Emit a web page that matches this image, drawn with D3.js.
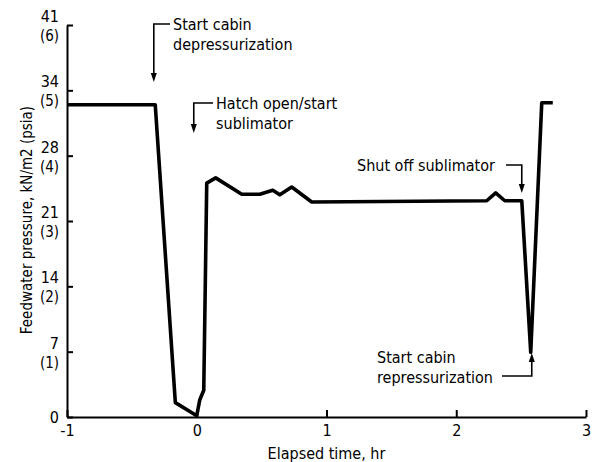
<!DOCTYPE html>
<html>
<head>
<meta charset="utf-8">
<script src="https://cdn.jsdelivr.net/npm/d3@7"></script>
<style>
  body { margin: 0; background: #fff; }
  text { font-family: "DejaVu Sans Condensed", "Liberation Sans Narrow", sans-serif; fill: #000; }
</style>
</head>
<body>
<div id="chart"></div>
<script>
// elapsed time, hr
let times = [-1, -0.32, -0.165, 0, 0.023, 0.054, 0.077, 0.146, 0.347, 0.486, 0.586, 0.64, 0.732, 0.886,
  2.235, 2.304, 2.374, 2.505, 2.574, 2.659, 2.744];
// feedwater pressure, psia
let pressures = [4.78, 4.78, 0.22, 0.02, 0.26, 0.41, 3.58, 3.66, 3.41, 3.41, 3.47, 3.40, 3.52, 3.29,
  3.31, 3.43, 3.31, 3.31, 0.99, 4.81, 4.81];

let xTicks = [-1, 0, 1, 2, 3];
let yTicks = [0, 1, 2, 3, 4, 5, 6];
let kNLabels = ["0", "7", "14", "21", "28", "34", "41"];
let psiaLabels = ["", "(1)", "(2)", "(3)", "(4)", "(5)", "(6)"];

let notes = [
  { t: -0.331, lines: ["Start cabin", "depressurization"] },
  { t: -0.023, lines: ["Hatch open/start", "sublimator"] },
  { t: 2.505, lines: ["Shut off sublimator"] },
  { t: 2.582, lines: ["Start cabin", "repressurization"] }
];

let data = times.map(function(t, i) {
  return { t: t, p: pressures[i] };
});

function renderChart() {
  let width = 601,
    height = 462;

  let svg = d3.select("#chart")
    .append("svg")
    .attr("width", width)
    .attr("height", height);

  let x = d3.scaleLinear().domain([-1, 3]).range([67, 586]);
  let y = d3.scaleLinear().domain([0, 6]).range([417, 25]);

  // x axis, ticks pointing up
  let xAxis = svg.append("g")
    .attr("transform", "translate(0," + y(0) + ")")
    .call(d3.axisBottom(x).tickValues(xTicks).tickSizeInner(-7).tickSizeOuter(0).tickPadding(5))
  xAxis.select(".domain").attr("stroke-width", 2);
  xAxis.selectAll(".tick line").attr("stroke-width", 2);
  xAxis.selectAll(".tick text")
    .style("font-size", "16px")
    .attr("font-family", null)
    .attr("dy", "0.9em")
    .text(function(d) { return d < 0 ? "-1" : d; });

  // y axis, ticks pointing right
  let yAxis = svg.append("g")
    .attr("transform", "translate(" + x(-1) + ",0)")
    .call(d3.axisLeft(y).tickValues(yTicks).tickSizeInner(-6).tickSizeOuter(0).tickFormat(""))
  yAxis.select(".domain").attr("stroke-width", 2);
  yAxis.selectAll(".tick line").attr("stroke-width", 2);

  let yLab = svg.append("g").selectAll("g")
    .data(yTicks)
    .enter()
    .append("g")
    .attr("transform", function(d) { return "translate(59," + y(d) + ")"; });
  yLab.append("text")
    .attr("text-anchor", "end")
    .attr("y", function(d, i) { return i === 0 ? 6 : -3; })
    .style("font-size", "16px")
    .text(function(d, i) { return kNLabels[i]; });
  yLab.append("text")
    .attr("text-anchor", "end")
    .attr("y", 16)
    .style("font-size", "15px")
    .text(function(d, i) { return psiaLabels[i]; });

  // axis titles
  svg.append("text")
    .attr("x", x(1))
    .attr("y", 459)
    .attr("text-anchor", "middle")
    .style("font-size", "16px")
    .text("Elapsed time, hr");

  svg.append("text")
    .attr("transform", "translate(32,220) rotate(-90)")
    .attr("text-anchor", "middle")
    .style("font-size", "15px")
    .text("Feedwater pressure, kN/m2 (psia)");

  // the curve
  let line = d3.line()
    .x(function(d) { return x(d.t); })
    .y(function(d) { return y(d.p); });

  svg.append("path")
    .datum(data)
    .attr("d", line)
    .attr("fill", "none")
    .attr("stroke", "#000")
    .attr("stroke-width", 3.6)
    .attr("stroke-linejoin", "round");

  // annotation layout: bracket top y, arrow tip y, text x, first baseline
  let layout = [
    { top: 24, tip: 82, tx: 173, ty: 30, end: null, up: false },
    { top: 103, tip: 133, tx: 216, ty: 109, end: null, up: false },
    { top: 165, tip: 193, tx: 357, ty: 171, end: 503, up: false },
    { top: 376, tip: 353, tx: 377, ty: 363, end: 499, up: true }
  ];

  let ann = svg.append("g");
  notes.forEach(function(n, i) {
    let L = layout[i],
      ax = x(n.t);
    let hx = L.end === null ? L.tx - 3 : L.end + 3;
    ann.append("path")
      .attr("d", "M" + hx + "," + L.top + "H" + ax + "V" + (L.up ? L.tip + 6 : L.tip - 6))
      .attr("fill", "none")
      .attr("stroke", "#000")
      .attr("stroke-width", 1.6);
    let s = L.up ? -1 : 1;
    ann.append("path")
      .attr("d", "M" + (ax - 3) + "," + (L.tip - s * 9) + "L" + (ax + 3) + "," + (L.tip - s * 9) + "L" + ax + "," + L.tip + "Z")
      .attr("fill", "#000");
    let txt = ann.append("text")
      .style("font-size", "16px");
    n.lines.forEach(function(s2, j) {
      txt.append("tspan")
        .attr("x", L.tx)
        .attr("y", L.ty + j * 20)
        .text(s2);
    });
  });
}

renderChart();
</script>
</body>
</html>
